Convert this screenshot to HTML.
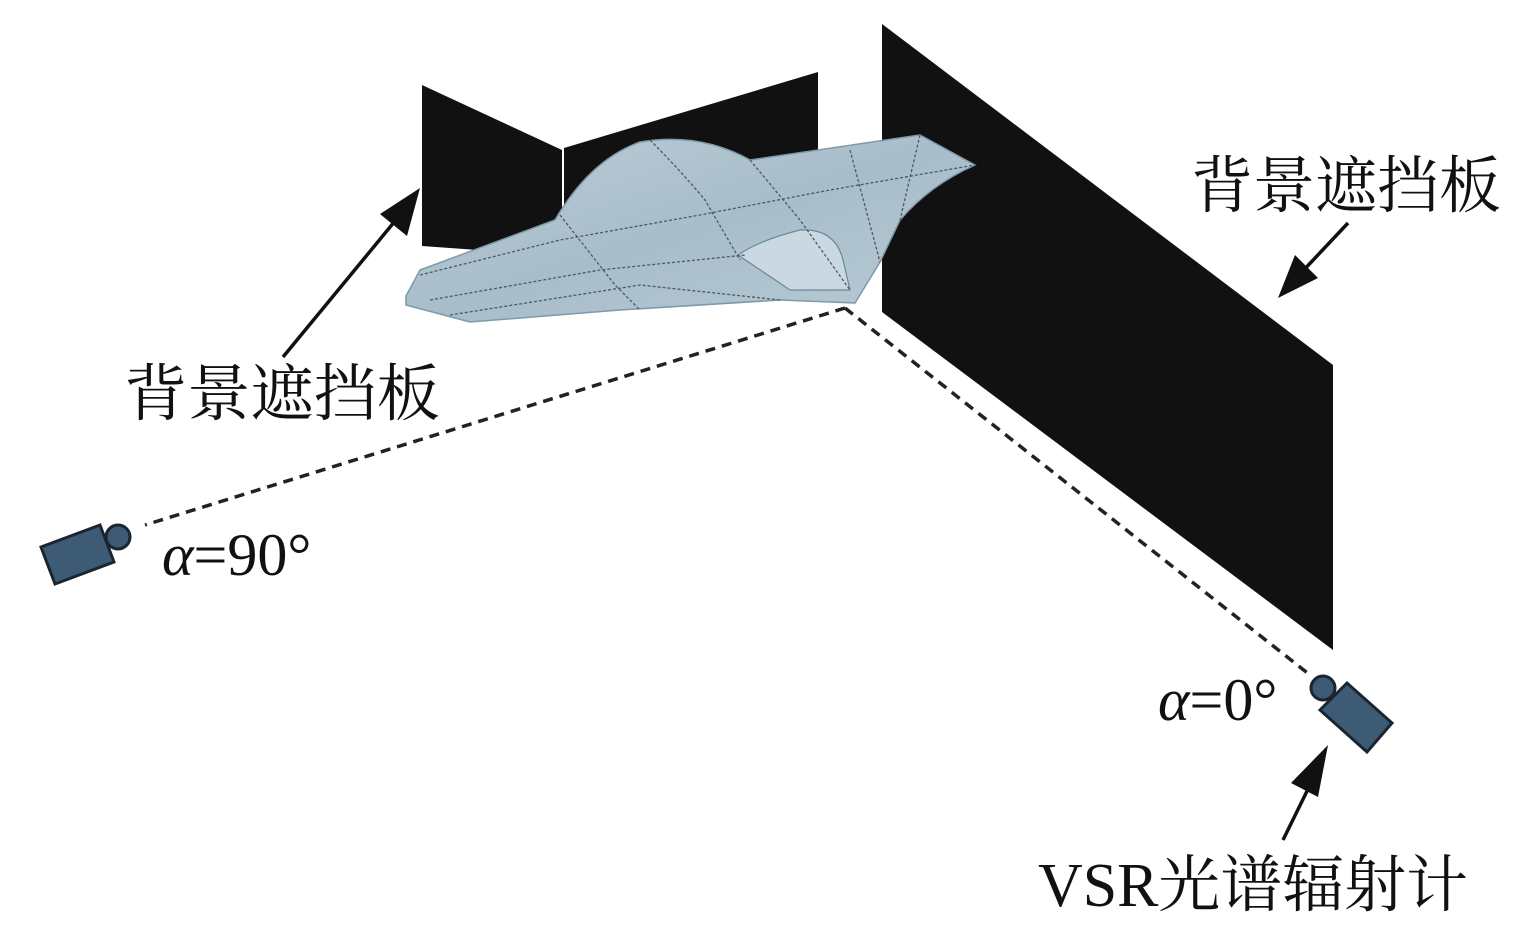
<!DOCTYPE html>
<html><head><meta charset="utf-8"><style>html,body{margin:0;padding:0;background:#fff}svg{display:block}</style></head>
<body>
<svg width="1535" height="932" viewBox="0 0 1535 932" xmlns="http://www.w3.org/2000/svg">
<defs>
<linearGradient id="pg" x1="0" y1="0" x2="1" y2="1">
<stop offset="0" stop-color="#bccdd7"/><stop offset="0.5" stop-color="#a8bdca"/><stop offset="1" stop-color="#b8cbd6"/>
</linearGradient>
</defs>
<polygon points="422,85 562,150 562,256 422,246" fill="#111"/>
<polygon points="564,148 818,72 818,200 564,256" fill="#111"/>
<polygon points="882,24 1333,365 1333,650 882,312" fill="#111"/>
<path d="M406,296 L420,270 L555,220 Q590,160 640,142 Q700,132 750,160 L920,135 L975,165 Q930,185 900,220 L880,262 L855,303 L780,300 L620,310 L470,322 L406,305 Z" fill="url(#pg)" stroke="#7f99a8" stroke-width="1.5"/>
<path d="M738,255 Q760,240 800,230 Q835,228 843,260 L850,290 L790,290 Z" fill="#cad9e1" stroke="#6d8796" stroke-width="1.2"/>
<g fill="none" stroke="#4a5a66" stroke-width="1.3" stroke-dasharray="3,2">
<path d="M420,275 L560,240 L700,215 L830,190 L975,165"/>
<path d="M430,300 L600,270 L745,255"/>
<path d="M450,315 L640,285 L780,300"/>
<path d="M560,215 L615,285 L640,310"/>
<path d="M650,140 Q680,170 705,200 L740,260"/>
<path d="M750,160 L800,220 L850,290"/>
<path d="M850,150 L880,262"/>
<path d="M920,135 L900,220"/>
</g>
<g stroke="#222" stroke-width="3.5" stroke-dasharray="10,7" fill="none">
<path d="M845,308 L145,525"/>
<path d="M845,308 L1310,675"/>
</g>
<g fill="#3e5b75" stroke="#1b2530" stroke-width="3">
<polygon points="41,547 100,525 114,562 55,584"/>
<circle cx="118" cy="537" r="12"/>
<polygon points="1320,710 1347,683 1392,723 1367,752"/>
<circle cx="1323" cy="688" r="12"/>
</g>
<g stroke="#111" stroke-width="3.5">
<line x1="283" y1="357" x2="400" y2="215"/>
<line x1="1348" y1="223" x2="1300" y2="274"/>
<line x1="1283" y1="840" x2="1310" y2="785"/>
</g>
<g fill="#111">
<polygon points="420,188 407,236 380,214"/>
<polygon points="1278,298 1295,255 1318,278"/>
<polygon points="1328,745 1318,797 1291,783"/>
</g>
<g font-family="'Liberation Serif','Noto Serif CJK SC',serif" fill="#111">
<text x="124" y="415" font-size="62" textLength="316" lengthAdjust="spacingAndGlyphs">背景遮挡板</text>
<text x="1191" y="207" font-size="62" textLength="310" lengthAdjust="spacingAndGlyphs">背景遮挡板</text>
<text x="162" y="575" font-size="60"><tspan font-style="italic">α</tspan>=90°</text>
<text x="1158" y="720" font-size="60"><tspan font-style="italic">α</tspan>=0°</text>
<text x="1038" y="906" font-size="62" textLength="430" lengthAdjust="spacingAndGlyphs">VSR光谱辐射计</text>
</g>
</svg>
</body></html>
